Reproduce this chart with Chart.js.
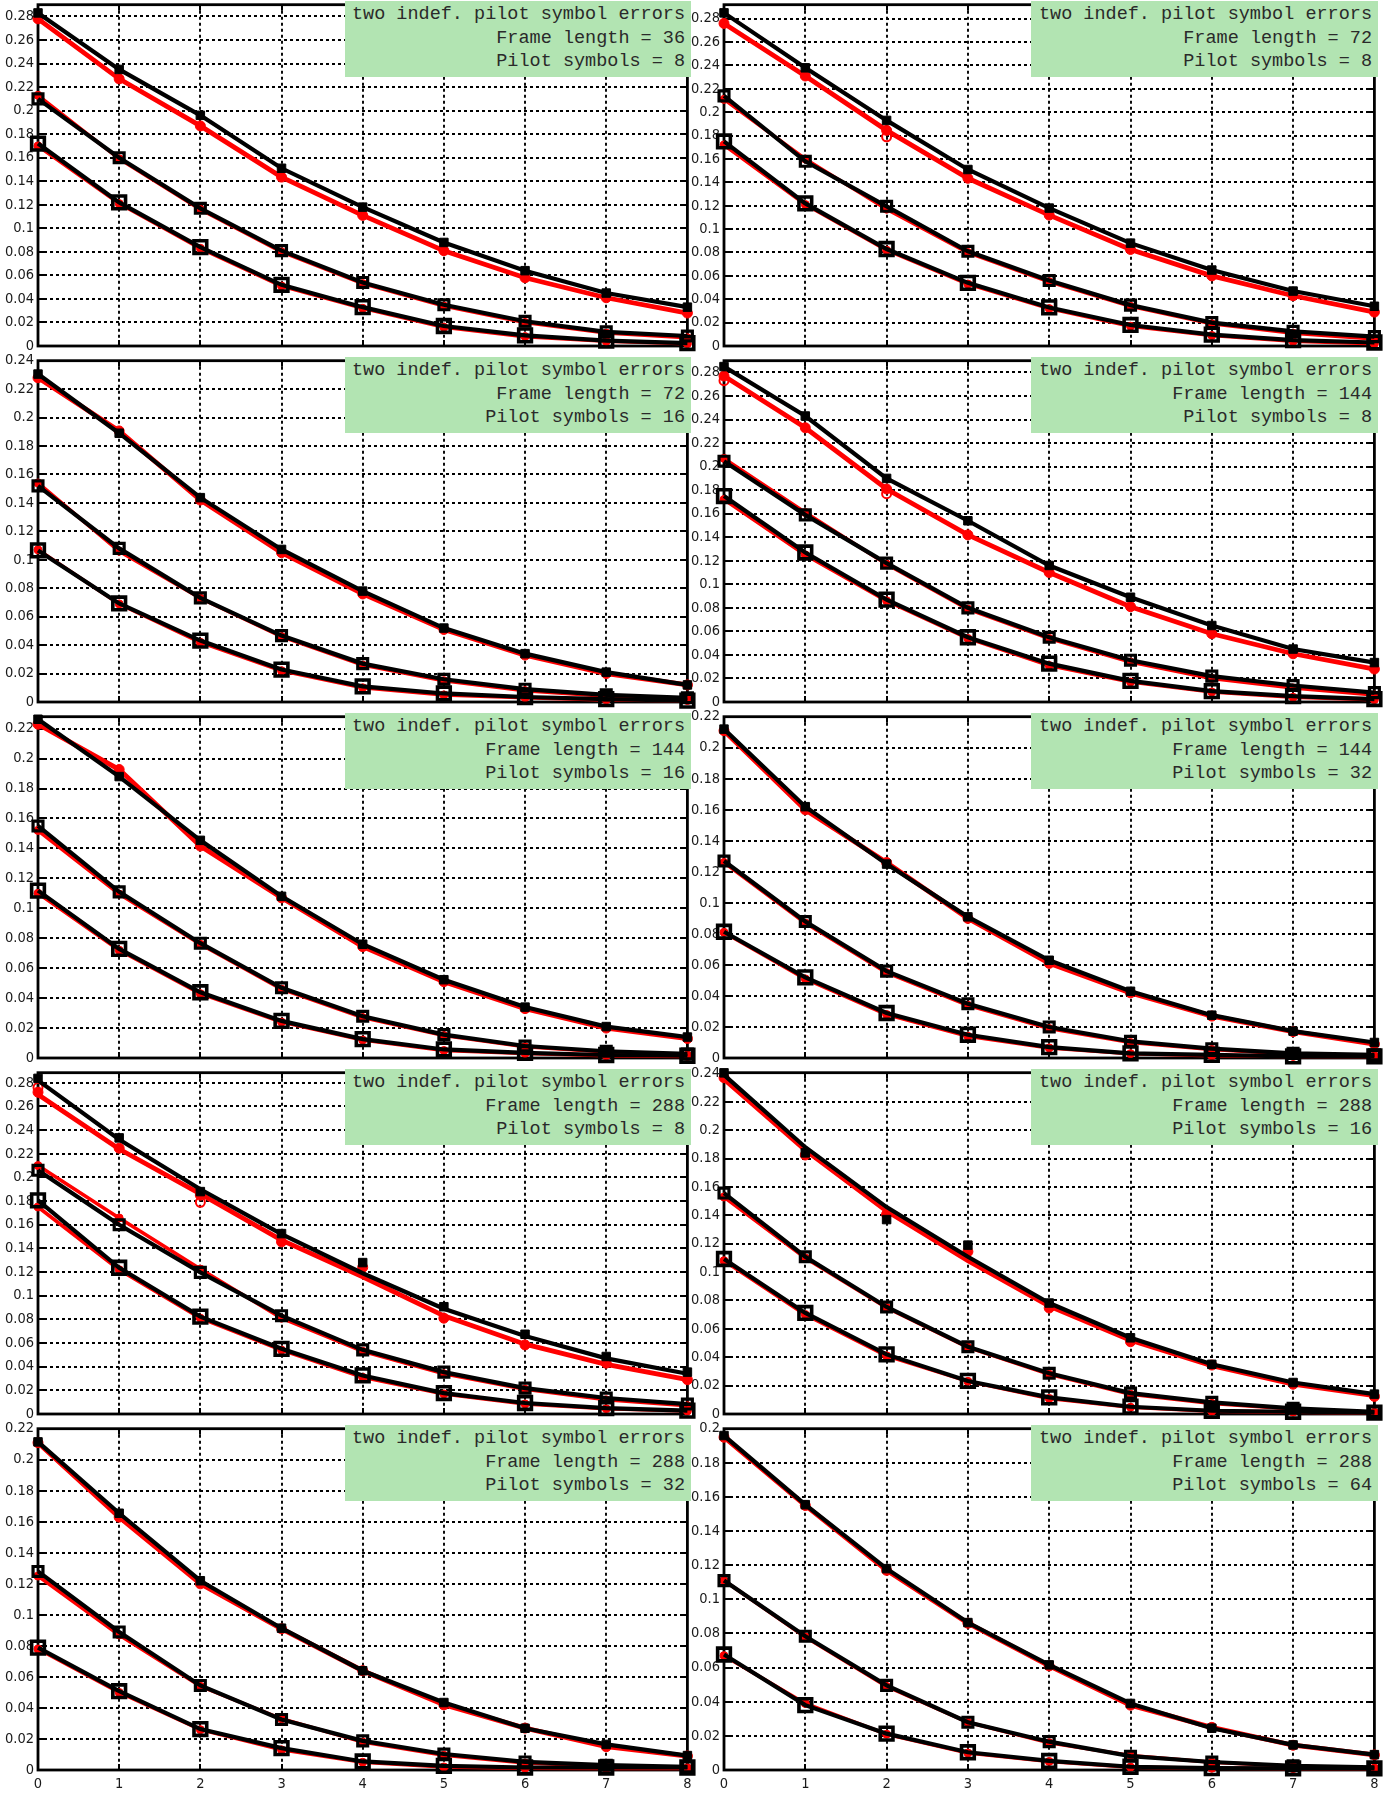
<!DOCTYPE html>
<html>
<head>
<meta charset="utf-8">
<script src="https://cdn.jsdelivr.net/npm/chart.js@4.4.1/dist/chart.umd.min.js"></script>
<style>
  html, body { margin: 0; padding: 0; background: #fff; }
  #page { position: relative; width: 1399px; height: 1798px; overflow: hidden; background: #fff; }
  .panel { position: absolute; display: block; }
  .note {
    position: absolute;
    background: rgb(178, 228, 178);
    font-family: 'Liberation Mono', 'Courier New', 'DejaVu Sans Mono', monospace;
    font-size: 18.5px;
    line-height: 23.5px;
    color: #2a2a2a;
    text-align: right;
    white-space: pre;
    box-sizing: border-box;
    padding: 2px 6px 0 0;
    z-index: 5;
  }
</style>
</head>
<body>
<div id="page"></div>
<script>
// ---- axis values -------------------------------------------------------
const xSteps = [0, 1, 2, 3, 4, 5, 6, 7, 8];
const yTickValues = [0, 0.02, 0.04, 0.06, 0.08, 0.1, 0.12, 0.14, 0.16, 0.18, 0.2, 0.22, 0.24, 0.26, 0.28];

// ---- panel captions ----------------------------------------------------
const noteHeading = 'two indef. pilot symbol errors';
const frameLengths = [36, 72, 72, 144, 144, 144, 288, 288, 288, 288];
const pilotSymbols = [8, 8, 16, 8, 16, 32, 8, 16, 32, 64];
const yUpperLimits = [0.29, 0.292, 0.24, 0.29, 0.228, 0.22, 0.2885, 0.2405, 0.22, 0.2];

// ---- curves: [top, middle, bottom]; black = square markers, red = circles
const fl36p8Black = [
  [0.283, 0.235, 0.196, 0.151, 0.118, 0.088, 0.064, 0.045, 0.033],
  [0.210, 0.160, 0.117, 0.081, 0.054, 0.035, 0.021, 0.012, 0.0085],
  [0.172, 0.122, 0.084, 0.052, 0.033, 0.017, 0.009, 0.0045, 0.0025]
];
const fl36p8Red = [
  [0.278, 0.227, 0.187, 0.1435, 0.111, 0.081, 0.058, 0.041, 0.028],
  [0.213, 0.159, 0.116, 0.080, 0.053, 0.034, 0.020, 0.011, 0.007],
  [0.170, 0.121, 0.083, 0.051, 0.032, 0.016, 0.008, 0.004, 0.002]
];

const fl72p8Black = [
  [0.285, 0.238, 0.193, 0.151, 0.118, 0.088, 0.065, 0.047, 0.034],
  [0.214, 0.158, 0.1195, 0.081, 0.056, 0.035, 0.020, 0.0125, 0.008],
  [0.175, 0.122, 0.083, 0.054, 0.033, 0.018, 0.0097, 0.005, 0.003]
];
const fl72p8Red = [
  [0.276, 0.231, 0.1845, 0.1435, 0.112, 0.0826, 0.060, 0.043, 0.029],
  [0.211, 0.160, 0.117, 0.080, 0.055, 0.034, 0.019, 0.011, 0.006],
  [0.172, 0.121, 0.082, 0.053, 0.032, 0.017, 0.009, 0.004, 0.002]
];
const fl72p8RedOpen = [{ x: 2, y: 0.179 }];

const fl72p16Black = [
  [0.2306, 0.189, 0.1437, 0.1073, 0.078, 0.052, 0.034, 0.021, 0.012],
  [0.152, 0.108, 0.0732, 0.0467, 0.027, 0.016, 0.009, 0.005, 0.003],
  [0.1066, 0.0693, 0.0432, 0.0228, 0.011, 0.006, 0.0035, 0.002, 0.001]
];
const fl72p16Red = [
  [0.228, 0.1906, 0.142, 0.105, 0.076, 0.051, 0.033, 0.020, 0.012],
  [0.154, 0.106, 0.073, 0.046, 0.026, 0.015, 0.008, 0.004, 0.002],
  [0.107, 0.069, 0.042, 0.022, 0.010, 0.005, 0.003, 0.0015, 0.001]
];

const fl144p8Black = [
  [0.285, 0.243, 0.190, 0.154, 0.116, 0.089, 0.065, 0.045, 0.0335],
  [0.2046, 0.159, 0.118, 0.080, 0.055, 0.0355, 0.022, 0.014, 0.008],
  [0.175, 0.127, 0.087, 0.055, 0.0326, 0.018, 0.0092, 0.005, 0.0025]
];
const fl144p8Red = [
  [0.277, 0.233, 0.181, 0.142, 0.110, 0.081, 0.058, 0.041, 0.028],
  [0.207, 0.161, 0.117, 0.079, 0.054, 0.034, 0.020, 0.012, 0.006],
  [0.172, 0.125, 0.086, 0.054, 0.031, 0.017, 0.0085, 0.004, 0.002]
];
const fl144p8RedOpen = [{ x: 0, y: 0.273 }, { x: 2, y: 0.177 }];

const fl144p16Black = [
  [0.2263, 0.188, 0.1454, 0.108, 0.076, 0.0523, 0.034, 0.021, 0.014],
  [0.155, 0.111, 0.0767, 0.0469, 0.0279, 0.0156, 0.008, 0.0045, 0.0027],
  [0.1118, 0.0729, 0.0439, 0.0248, 0.0126, 0.0057, 0.0034, 0.002, 0.0015]
];
const fl144p16Red = [
  [0.223, 0.1927, 0.1416, 0.107, 0.0744, 0.051, 0.033, 0.020, 0.013],
  [0.152, 0.1095, 0.076, 0.046, 0.027, 0.015, 0.0075, 0.004, 0.002],
  [0.110, 0.072, 0.043, 0.024, 0.012, 0.005, 0.003, 0.0015, 0.001]
];

const fl144p32Black = [
  [0.212, 0.162, 0.125, 0.091, 0.063, 0.043, 0.0276, 0.0173, 0.010],
  [0.127, 0.088, 0.056, 0.035, 0.020, 0.0107, 0.006, 0.003, 0.002],
  [0.0814, 0.052, 0.029, 0.015, 0.007, 0.003, 0.002, 0.001, 0.001]
];
const fl144p32Red = [
  [0.211, 0.160, 0.126, 0.090, 0.061, 0.042, 0.027, 0.017, 0.009],
  [0.126, 0.087, 0.055, 0.034, 0.019, 0.010, 0.0055, 0.0025, 0.0015],
  [0.081, 0.051, 0.028, 0.014, 0.0065, 0.0028, 0.0015, 0.001, 0.0008]
];

const fl288p8Black = [
  [0.282, 0.232, 0.190, 0.152, 0.119, 0.089, 0.066, 0.047, 0.034],
  [0.206, 0.160, 0.1197, 0.0831, 0.0542, 0.0354, 0.0219, 0.0135, 0.0084],
  [0.1806, 0.1236, 0.0823, 0.0551, 0.0326, 0.0177, 0.0093, 0.005, 0.0028]
];
const fl288p8BlackMarks = [
  [0.2837, 0.2334, 0.188, 0.1525, 0.128, 0.0907, 0.0674, 0.0486, 0.0354],
  null,
  null
];
const fl288p8Red = [
  [0.270, 0.224, 0.186, 0.147, 0.116, 0.083, 0.059, 0.042, 0.029],
  [0.210, 0.1657, 0.1225, 0.081, 0.053, 0.034, 0.021, 0.012, 0.007],
  [0.175, 0.122, 0.081, 0.054, 0.031, 0.017, 0.0085, 0.0045, 0.0025]
];
const fl288p8RedMarks = [
  [0.272, 0.2247, 0.185, 0.1455, 0.124, 0.081, 0.0584, 0.043, 0.029],
  null,
  null
];
const fl288p8RedOpen = [{ x: 0, y: 0.276 }, { x: 2, y: 0.179 }];

const fl288p16Black = [
  [0.239, 0.188, 0.1458, 0.1108, 0.0782, 0.0537, 0.035, 0.0222, 0.014],
  [0.1557, 0.1108, 0.0754, 0.0474, 0.0287, 0.0147, 0.0082, 0.004, 0.0016],
  [0.1092, 0.0712, 0.042, 0.0233, 0.0117, 0.0051, 0.0023, 0.0016, 0.001]
];
const fl288p16BlackMarks = [
  [0.2404, 0.184, 0.137, 0.119, 0.0782, 0.0537, 0.035, 0.0222, 0.014],
  null,
  null
];
const fl288p16Red = [
  [0.236, 0.186, 0.143, 0.108, 0.076, 0.052, 0.034, 0.021, 0.013],
  [0.1529, 0.110, 0.075, 0.047, 0.028, 0.014, 0.0075, 0.0035, 0.0012],
  [0.108, 0.070, 0.041, 0.023, 0.011, 0.0048, 0.002, 0.0013, 0.0008]
];
const fl288p16RedMarks = [
  [0.237, 0.1825, 0.1407, 0.1144, 0.0747, 0.0509, 0.0345, 0.021, 0.0124],
  null,
  null
];

const fl288p32Black = [
  [0.2115, 0.1655, 0.122, 0.0914, 0.064, 0.0435, 0.0269, 0.0165, 0.0093],
  [0.128, 0.089, 0.0545, 0.0326, 0.0188, 0.0103, 0.0052, 0.0031, 0.002],
  [0.0789, 0.0508, 0.0264, 0.0141, 0.0055, 0.0027, 0.0016, 0.0016, 0.0016]
];
const fl288p32Red = [
  [0.211, 0.163, 0.120, 0.091, 0.064, 0.042, 0.027, 0.015, 0.009],
  [0.125, 0.087, 0.054, 0.033, 0.018, 0.0095, 0.0045, 0.0025, 0.0015],
  [0.078, 0.050, 0.026, 0.013, 0.005, 0.002, 0.0012, 0.001, 0.001]
];

const fl288p64Black = [
  [0.196, 0.1555, 0.118, 0.0864, 0.0616, 0.039, 0.0245, 0.0147, 0.009],
  [0.111, 0.0784, 0.0496, 0.028, 0.0166, 0.0081, 0.0047, 0.0025, 0.0015],
  [0.0677, 0.038, 0.0213, 0.0104, 0.0053, 0.0019, 0.0011, 0.001, 0.001]
];
const fl288p64Red = [
  [0.195, 0.155, 0.117, 0.086, 0.061, 0.038, 0.025, 0.0145, 0.0088],
  [0.111, 0.078, 0.049, 0.028, 0.016, 0.0085, 0.0045, 0.0022, 0.0012],
  [0.067, 0.039, 0.021, 0.010, 0.005, 0.0017, 0.001, 0.0008, 0.0008]
];

// ---- panel list, read row by row (left, right) -------------------------
const panels = [
  { black: fl36p8Black,   red: fl36p8Red },
  { black: fl72p8Black,   red: fl72p8Red,   redOpen: fl72p8RedOpen },
  { black: fl72p16Black,  red: fl72p16Red },
  { black: fl144p8Black,  red: fl144p8Red,  redOpen: fl144p8RedOpen },
  { black: fl144p16Black, red: fl144p16Red },
  { black: fl144p32Black, red: fl144p32Red },
  { black: fl288p8Black,  red: fl288p8Red,  blackMarks: fl288p8BlackMarks, redMarks: fl288p8RedMarks, redOpen: fl288p8RedOpen },
  { black: fl288p16Black, red: fl288p16Red, blackMarks: fl288p16BlackMarks, redMarks: fl288p16RedMarks },
  { black: fl288p32Black, red: fl288p32Red },
  { black: fl288p64Black, red: fl288p64Red }
];

// ---- geometry ----------------------------------------------------------
const PLOT_LEFT = [38, 724];
const PLOT_WIDTH = [650, 651];
const PLOT_TOP0 = 4, ROW_PITCH = 356, PLOT_HEIGHT = 342;
const Y_AXIS_W = 38, PAD_T = 12, PAD_R = 12, PAD_B = 12, X_AXIS_H_BOTTOM = 30;

const tickFont = { family: "'Liberation Sans Narrow', 'Arial Narrow', 'DejaVu Sans Condensed', sans-serif", size: 14.5 };
const tickColor = '#1a1a1a';

// marker styling for the three curves of each colour
const blackStyles = [
  { pointStyle: 'rect', radius: 6, fill: '#000', border: 1 },
  { pointStyle: 'rect', radius: 7, fill: 'rgba(0,0,0,0)', border: 3.2 },
  { pointStyle: 'rect', radius: 9, fill: 'rgba(0,0,0,0)', border: 3.6 }
];
const redStyles = [
  { pointStyle: 'circle', radius: 5, fill: '#ff0000', border: 1 },
  { pointStyle: 'circle', radius: 4, fill: '#ff0000', border: 1 },
  { pointStyle: 'circle', radius: 4, fill: '#ff0000', border: 1 }
];
const blackLineWidths = [4.2, 4.2, 4.2];
const redLineWidths = [4.8, 3.6, 3.6];

const toPoints = vals => vals.map((v, i) => ({ x: xSteps[i], y: v }));

function curveDatasets(lines, marks, color, styles, widths) {
  const out = [];
  lines.forEach((vals, k) => {
    const st = styles[k];
    const own = marks && marks[k];
    out.push({
      data: toPoints(vals),
      borderColor: color,
      borderWidth: widths[k],
      tension: 0,
      fill: false,
      clip: false,
      pointStyle: st.pointStyle,
      pointRadius: own ? 0 : st.radius,
      pointBackgroundColor: st.fill,
      pointBorderColor: color,
      pointBorderWidth: st.border,
      pointHoverRadius: 0
    });
    if (own) {
      out.push({
        data: toPoints(own),
        showLine: false,
        clip: false,
        pointStyle: st.pointStyle,
        pointRadius: st.radius,
        pointBackgroundColor: st.fill,
        pointBorderColor: color,
        pointBorderWidth: st.border,
        pointHoverRadius: 0
      });
    }
  });
  return out;
}

// dotted grid, inner tick marks and the surrounding box
const framePlugin = {
  id: 'framePlugin',
  beforeDatasetsDraw(chart) {
    const { ctx, chartArea: a, scales } = chart;
    const xs = scales.x, ys = scales.y;
    ctx.save();
    ctx.strokeStyle = '#000';
    ctx.lineWidth = 1.9;
    ctx.setLineDash([3, 3]);
    ctx.beginPath();
    xs.ticks.forEach(t => {
      if (t.value <= 0 || t.value >= 8) return;
      const px = Math.round(xs.getPixelForValue(t.value));
      ctx.moveTo(px, a.top);
      ctx.lineTo(px, a.bottom);
    });
    ys.ticks.forEach(t => {
      if (t.value <= 0) return;
      const py = Math.round(ys.getPixelForValue(t.value));
      ctx.moveTo(a.left, py);
      ctx.lineTo(a.right, py);
    });
    ctx.stroke();
    ctx.setLineDash([]);
    ctx.lineWidth = 2;
    ctx.beginPath();
    xs.ticks.forEach(t => {
      const px = Math.round(xs.getPixelForValue(t.value));
      ctx.moveTo(px, a.bottom); ctx.lineTo(px, a.bottom - 6);
      ctx.moveTo(px, a.top); ctx.lineTo(px, a.top + 6);
    });
    ys.ticks.forEach(t => {
      const py = Math.round(ys.getPixelForValue(t.value));
      ctx.moveTo(a.left, py); ctx.lineTo(a.left + 6, py);
      ctx.moveTo(a.right, py); ctx.lineTo(a.right - 6, py);
    });
    ctx.stroke();
    ctx.lineWidth = 2.8;
    ctx.strokeRect(a.left, a.top, a.right - a.left, a.bottom - a.top);
    ctx.restore();
  }
};

const page = document.getElementById('page');

panels.forEach((panel, p) => {
  const row = Math.floor(p / 2), col = p % 2;
  const isBottom = row === 4;
  const plotLeft = PLOT_LEFT[col], plotW = PLOT_WIDTH[col];
  const plotTop = PLOT_TOP0 + row * ROW_PITCH;
  const xAxisH = isBottom ? X_AXIS_H_BOTTOM : 1;
  const padB = isBottom ? 0 : PAD_B;
  const yMax = yUpperLimits[p];

  const canvas = document.createElement('canvas');
  const cw = Y_AXIS_W + plotW + PAD_R;
  const ch = PAD_T + PLOT_HEIGHT + xAxisH + padB;
  canvas.width = cw; canvas.height = ch;
  canvas.className = 'panel';
  canvas.style.left = (plotLeft - Y_AXIS_W) + 'px';
  canvas.style.top = (plotTop - PAD_T) + 'px';
  canvas.style.width = cw + 'px';
  canvas.style.height = ch + 'px';
  page.appendChild(canvas);

  const datasets = [].concat(
    curveDatasets(panel.black, panel.blackMarks, '#000000', blackStyles, blackLineWidths),
    curveDatasets(panel.red, panel.redMarks, '#ff0000', redStyles, redLineWidths)
  );
  if (panel.redOpen) {
    datasets.push({
      data: panel.redOpen,
      showLine: false,
      clip: false,
      pointStyle: 'circle',
      pointRadius: 4.5,
      pointBackgroundColor: 'rgba(255,255,255,0)',
      pointBorderColor: '#ff0000',
      pointBorderWidth: 2,
      pointHoverRadius: 0
    });
  }

  new Chart(canvas, {
    type: 'line',
    data: { datasets },
    options: {
      responsive: false,
      maintainAspectRatio: false,
      animation: false,
      devicePixelRatio: 1,
      events: [],
      layout: { padding: { top: PAD_T, right: PAD_R, bottom: padB, left: 0 } },
      plugins: { legend: { display: false }, tooltip: { enabled: false } },
      scales: {
        x: {
          type: 'linear', min: 0, max: 8,
          afterBuildTicks: s => { s.ticks = xSteps.map(v => ({ value: v })); },
          afterFit: s => { s.height = xAxisH; },
          grid: { display: false, drawTicks: false },
          border: { display: false },
          ticks: { display: isBottom, font: tickFont, color: tickColor, padding: 6, maxRotation: 0, autoSkip: false,
                   callback: v => String(v) }
        },
        y: {
          type: 'linear', min: 0, max: yMax,
          afterBuildTicks: s => { s.ticks = yTickValues.filter(v => v <= yMax + 1e-9).map(v => ({ value: v })); },
          afterFit: s => { s.width = Y_AXIS_W; },
          grid: { display: false, drawTicks: false },
          border: { display: false },
          ticks: { font: tickFont, color: tickColor, padding: 4, autoSkip: false,
                   callback: v => String(Number(Number(v).toFixed(3))) }
        }
      }
    },
    plugins: [framePlugin]
  });

  // caption box in the upper right corner of the panel
  const note = document.createElement('div');
  note.className = 'note';
  const noteLeft = plotLeft + 307;
  note.style.left = noteLeft + 'px';
  note.style.top = (plotTop - 3) + 'px';
  note.style.width = (plotLeft + plotW + 3 - noteLeft) + 'px';
  note.style.height = '76px';
  note.textContent = noteHeading + '\nFrame length = ' + frameLengths[p] + '\nPilot symbols = ' + pilotSymbols[p];
  page.appendChild(note);
});
</script>
</body>
</html>
